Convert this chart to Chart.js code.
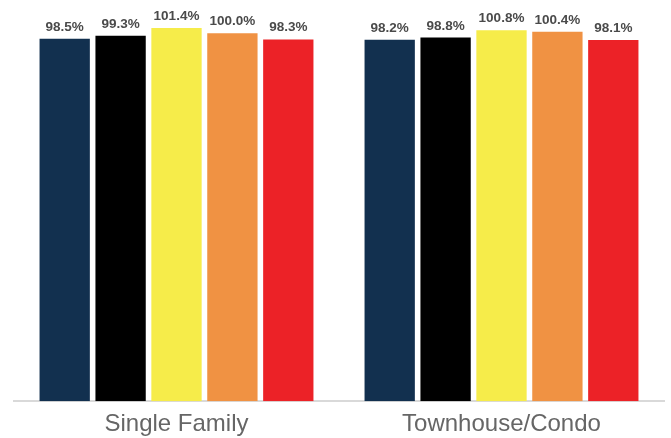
<!DOCTYPE html>
<html>
<head>
<meta charset="utf-8">
<script src="https://cdn.jsdelivr.net/npm/chart.js@4/dist/chart.umd.min.js"></script>
<style>
  html, body { margin: 0; padding: 0; background: #fff; }
  #wrap { width: 671px; height: 438px; position: relative; }
</style>
</head>
<body>
<div id="wrap"><canvas id="chart"></canvas></div>
<script>
// categories and values
const categories = ['Single Family', 'Townhouse/Condo'];
const seriesNames = ['Series 1', 'Series 2', 'Series 3', 'Series 4', 'Series 5'];
const series1 = [98.5, 98.2];
const series2 = [99.3, 98.8];
const series3 = [101.4, 100.8];
const series4 = [100.0, 100.4];
const series5 = [98.3, 98.1];
const seriesColors = ['#12304f', '#000000', '#f6ec4a', '#f09243', '#ec2227'];

const allSeries = [series1, series2, series3, series4, series5];

// draws the percentage labels above each bar
const valueLabels = {
  id: 'valueLabels',
  afterDatasetsDraw(chart) {
    const ctx = chart.ctx;
    ctx.save();
    ctx.font = 'bold 13.5px "Liberation Sans", Arial, sans-serif';
    ctx.fillStyle = '#4a4a4a';
    ctx.textAlign = 'center';
    ctx.textBaseline = 'alphabetic';
    chart.data.datasets.forEach((ds, i) => {
      chart.getDatasetMeta(i).data.forEach((bar, j) => {
        ctx.fillText(ds.data[j].toFixed(1) + '%', bar.x, bar.y - 8);
      });
    });
    ctx.restore();
  }
};

new Chart(document.getElementById('chart'), {
  type: 'bar',
  data: {
    labels: categories,
    datasets: allSeries.map((vals, i) => ({
      label: seriesNames[i],
      data: vals,
      backgroundColor: seriesColors[i],
      categoryPercentage: 0.86,
      barPercentage: 0.9
    }))
  },
  options: {
    responsive: true,
    maintainAspectRatio: false,
    animation: false,
    layout: { padding: { left: 14, right: 7, top: 0, bottom: -10 } },
    plugins: {
      legend: { display: false },
      tooltip: { enabled: false }
    },
    scales: {
      x: {
        grid: { display: false, drawTicks: false, tickLength: 0 },
        border: { display: true, color: '#d9d9d9', width: 2 },
        ticks: {
          padding: 9,
          color: '#666',
          font: { family: '"Liberation Sans", Arial, sans-serif', size: 24 }
        }
      },
      y: {
        display: false,
        min: 0,
        max: 109
      }
    }
  },
  plugins: [valueLabels]
});
</script>
</body>
</html>
